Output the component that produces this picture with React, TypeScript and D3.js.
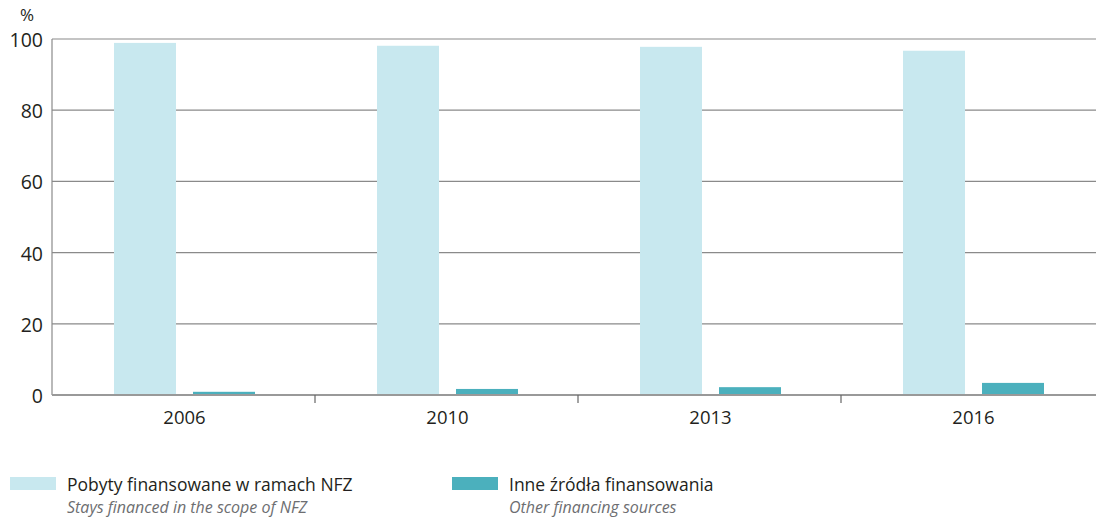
import React from 'react';
import * as d3 from 'd3';

// values (percent)
const years = ['2006', '2010', '2013', '2016'];
const nfzShare = [98.9, 98.1, 97.8, 96.7];
const otherShare = [0.9, 1.7, 2.2, 3.4];
const yTicks = [0, 20, 40, 60, 80, 100];

const seriesNames = ['Pobyty finansowane w ramach NFZ', 'Inne źródła finansowania'];
const seriesNamesEn = ['Stays financed in the scope of NFZ', 'Other financing sources'];
const seriesColors = ['#c8e8ef', '#4bb0bd'];

const W = 1096;
const H = 518;
const margin = { top: 39, right: -8, bottom: 123, left: 52 };
const FONT = "'Open Sans', 'Noto Sans', sans-serif";

const App = () => {
  const innerBottom = H - margin.bottom;

  const x = d3.scaleBand<string>()
    .domain(years)
    .range([margin.left, W - margin.right]);

  const y = d3.scaleLinear()
    .domain([0, 100])
    .range([innerBottom, margin.top]);

  // two bars per year, centred in the band
  const barW = 62;
  const gap = 17;
  const groupOffset = (x.bandwidth() - (barW * 2 + gap)) / 2 + 1;
  const series = [nfzShare, otherShare];

  return (
    <svg width={W} height={H} style={{ position: 'absolute', left: 0, top: 0, fontFamily: FONT }}>
      {/* gridlines */}
      {yTicks.filter(t => t > 0).map(t => (
        <line key={t} x1={margin.left} x2={W} y1={y(t)} y2={y(t)} stroke="#8a8a8a" strokeWidth={1.2} />
      ))}

      {/* bars */}
      {years.map((yr, i) => (
        <g key={yr} transform={`translate(${(x(yr) as number) + groupOffset},0)`}>
          {series.map((s, k) => (
            <rect
              key={k}
              x={k * (barW + gap)}
              y={y(s[i])}
              width={barW}
              height={innerBottom - y(s[i])}
              fill={seriesColors[k]}
            />
          ))}
        </g>
      ))}

      {/* axes */}
      <line x1={margin.left} x2={margin.left} y1={margin.top} y2={innerBottom} stroke="#8a8a8a" strokeWidth={1.2} />
      <line x1={margin.left} x2={W} y1={innerBottom} y2={innerBottom} stroke="#999" strokeWidth={2} />
      {years.slice(1).map(yr => (
        <line key={yr} x1={x(yr)} x2={x(yr)} y1={innerBottom} y2={innerBottom + 8} stroke="#666" strokeWidth={1.2} />
      ))}

      {/* y tick labels */}
      {yTicks.map(t => (
        <text key={t} x={43} y={y(t) + 8} textAnchor="end" fontSize={19.5} fill="#231f20">{t}</text>
      ))}
      <text x={27} y={21} textAnchor="middle" fontSize={17} fill="#231f20">%</text>

      {/* x tick labels */}
      {years.map(yr => (
        <text key={yr} x={(x(yr) as number) + x.bandwidth() / 2 + 1} y={424} textAnchor="middle" fontSize={18.5} fill="#231f20">{yr}</text>
      ))}

      {/* legend */}
      {seriesNames.map((name, k) => {
        const lx = k === 0 ? 10 : 452;
        return (
          <g key={name}>
            <rect x={lx} y={477} width={46} height={13} fill={seriesColors[k]} />
            <text x={lx + 57} y={490.5} fontSize={17.5} fill="#231f20">{name}</text>
            <text x={lx + 57} y={513} fontSize={16} fontStyle="italic" fill="#6d6e71">{seriesNamesEn[k]}</text>
          </g>
        );
      })}
    </svg>
  );
};

export default App;
